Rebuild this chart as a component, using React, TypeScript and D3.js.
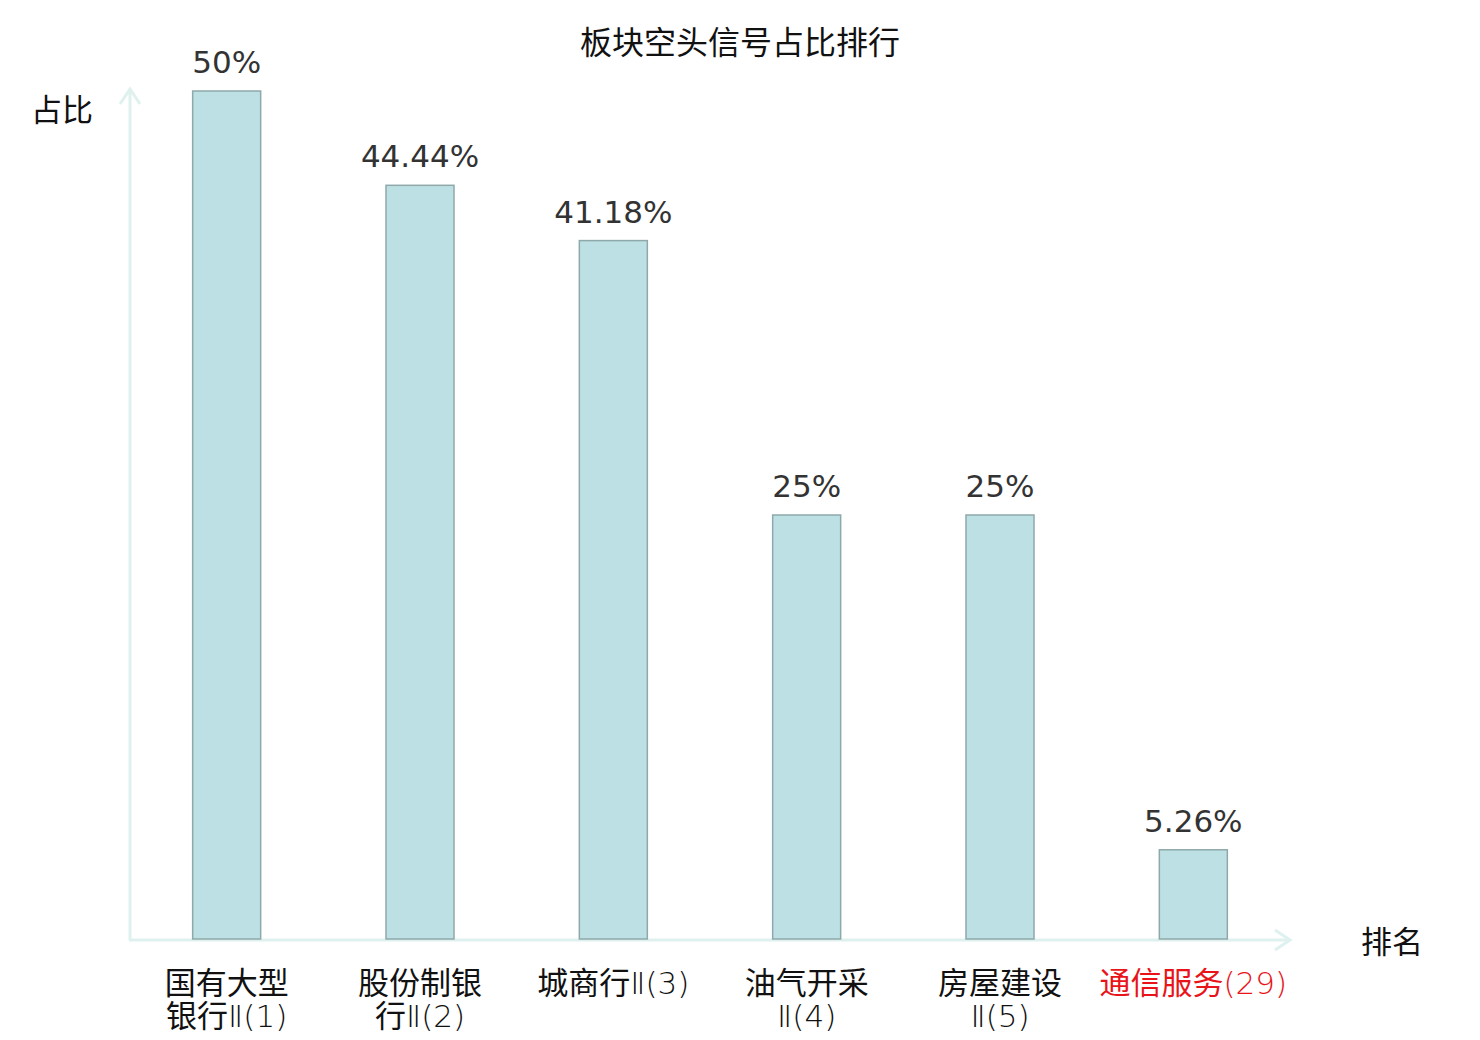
import React from "react";
import * as d3 from "d3";

const categories = ["国有大型银行Ⅱ(1)", "股份制银行Ⅱ(2)", "城商行Ⅱ(3)", "油气开采Ⅱ(4)", "房屋建设Ⅱ(5)", "通信服务(29)"];
const labelLines = [
  ["国有大型", "银行Ⅱ(1)"],
  ["股份制银", "行Ⅱ(2)"],
  ["城商行Ⅱ(3)"],
  ["油气开采", "Ⅱ(4)"],
  ["房屋建设", "Ⅱ(5)"],
  ["通信服务(29)"],
];
const values = [50, 44.44, 41.18, 25, 25, 5.26];
const valueLabels = ["50%", "44.44%", "41.18%", "25%", "25%", "5.26%"];
const highlighted = [false, false, false, false, false, true];

const W = 1480;
const H = 1040;
const x0 = 130;
const x1 = 1290;
const y0 = 939;
const yTop = 91;

const CJK = "'Noto Sans CJK SC', 'Noto Sans', sans-serif";
const NUM = "'DejaVu Sans', sans-serif";

function splitRuns(s: string) {
  const runs: { t: string; cjk: boolean }[] = [];
  for (const ch of s) {
    const cjk = /[\u4e00-\u9fff]/.test(ch);
    const last = runs[runs.length - 1];
    if (last && last.cjk === cjk) last.t += ch;
    else runs.push({ t: ch, cjk });
  }
  return runs;
}

export default function App() {
  const x = d3.scaleBand<string>().domain(categories).range([x0, x1]).padding(0);
  const y = d3.scaleLinear().domain([0, 50]).range([y0, yTop]);
  const barW = 68;
  const axisColor = "#dff1ef";
  const fs = 31;

  return (
    <svg width={W} height={H} style={{ position: "absolute", left: 0, top: 0, background: "#fff" }}>
      <text x={740} y={54} textAnchor="middle" fontFamily={CJK} fontSize={32} fill="#111">
        板块空头信号占比排行
      </text>
      {/* axes */}
      <line x1={x0} y1={y0 + 1} x2={x0} y2={89} stroke={axisColor} strokeWidth={3} />
      <polyline points={`${x0 - 10},${104} ${x0},${89} ${x0 + 10},${104}`} fill="none" stroke={axisColor} strokeWidth={3} />
      <line x1={x0 - 1} y1={y0 + 1} x2={1290} y2={y0 + 1} stroke={axisColor} strokeWidth={3} />
      <polyline points={`${1275},${y0 - 9} ${1290},${y0 + 1} ${1275},${y0 + 11}`} fill="none" stroke={axisColor} strokeWidth={3} />
      <text x={93} y={121} textAnchor="end" fontFamily={CJK} fontSize={fs} fill="#111">占比</text>
      <text x={1361} y={953} fontFamily={CJK} fontSize={fs} fill="#111">排名</text>
      {categories.map((c, i) => {
        const cx = (x(c) as number) + x.bandwidth() / 2;
        const top = y(values[i]);
        return (
          <g key={c}>
            <rect x={cx - barW / 2} y={top} width={barW} height={y0 - top} fill="#bce0e3" stroke="#8fa9ab" strokeWidth={1.5} />
            <text x={cx} y={top - 18} textAnchor="middle" fontFamily={NUM} fontSize={fs} fill="#333">
              {valueLabels[i]}
            </text>
            {labelLines[i].map((ln, j) => (
              <text key={j} x={cx} y={994 + j * 33} textAnchor="middle" fontFamily={CJK} fontSize={fs}
                fill={highlighted[i] ? "#e8141a" : "#111"}>
                {splitRuns(ln).map((r, k) => (
                  <tspan key={k} fontFamily={r.cjk ? CJK : "'DejaVu Sans ExtraLight', 'DejaVu Sans', sans-serif"}
                    fontWeight={r.cjk ? 400 : 200}>{r.t}</tspan>
                ))}
              </text>
            ))}
          </g>
        );
      })}
    </svg>
  );
}
